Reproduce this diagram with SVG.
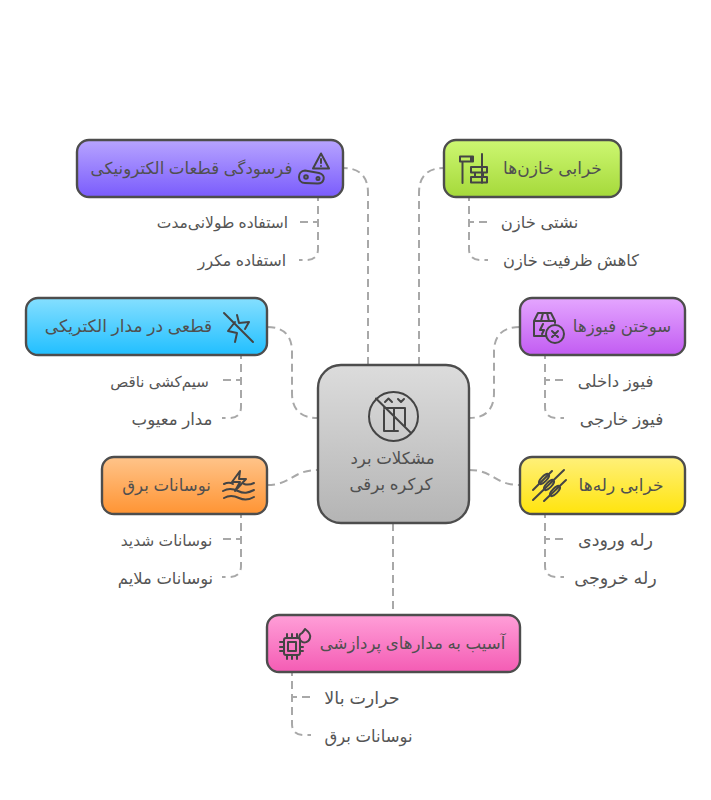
<svg xmlns="http://www.w3.org/2000/svg" width="711" height="800" viewBox="0 0 711 800">
<style>
.box{stroke:#4d4d4d;stroke-width:2.4}
.t{font-family:"Liberation Sans","DejaVu Sans",sans-serif;font-size:16.600px;fill:#505050;text-anchor:middle;direction:rtl}
.c{font-size:15.800px;fill:#555}
.ic{fill:none;stroke:#444;stroke-width:2;stroke-linecap:round;stroke-linejoin:round}
.ln{fill:none;stroke:#a8a8a8;stroke-width:2;stroke-dasharray:8 5}
.ch{stroke-dashoffset:4}
</style>
<defs>
<linearGradient id="gP" x1="0" y1="0" x2="0" y2="1"><stop offset="0" stop-color="#b7a4ff"/><stop offset="1" stop-color="#7a5cfc"/></linearGradient>
<linearGradient id="gG" x1="0" y1="0" x2="0" y2="1"><stop offset="0" stop-color="#cdf772"/><stop offset="1" stop-color="#a5d93a"/></linearGradient>
<linearGradient id="gB" x1="0" y1="0" x2="0" y2="1"><stop offset="0" stop-color="#85dfff"/><stop offset="1" stop-color="#21bfff"/></linearGradient>
<linearGradient id="gF" x1="0" y1="0" x2="0" y2="1"><stop offset="0" stop-color="#e4a6ff"/><stop offset="1" stop-color="#c25cf2"/></linearGradient>
<linearGradient id="gO" x1="0" y1="0" x2="0" y2="1"><stop offset="0" stop-color="#ffc48a"/><stop offset="1" stop-color="#ff9433"/></linearGradient>
<linearGradient id="gY" x1="0" y1="0" x2="0" y2="1"><stop offset="0" stop-color="#fff07a"/><stop offset="1" stop-color="#ffe40d"/></linearGradient>
<linearGradient id="gK" x1="0" y1="0" x2="0" y2="1"><stop offset="0" stop-color="#ff9fd8"/><stop offset="1" stop-color="#f45cb4"/></linearGradient>
<linearGradient id="gC" x1="0" y1="0" x2="0" y2="1"><stop offset="0" stop-color="#dcdcdc"/><stop offset="1" stop-color="#b4b4b4"/></linearGradient>
</defs>
<g id="connectors">
<path class="ln" d="M368 365V193Q368 168 343 168"/>
<path class="ln" d="M419 365V193Q419 168 444 168"/>
<path class="ln" d="M267 327Q292 327 292 352V393Q292 418 318 418"/>
<path class="ln" d="M520 327Q494 327 494 352V393Q494 418 469 418"/>
<path class="ln" d="M267 485C292 485 292 470 318 470"/>
<path class="ln" d="M469 470C494 470 494 485 520 485"/>
<path class="ln" d="M393 523V615"/>
<path class="ln ch" d="M318 197V222H299"/><path class="ln ch" d="M318 197V249Q318 260 306 260H299"/>
<path class="ln ch" d="M469 197V222H488"/><path class="ln ch" d="M469 197V249Q469 260 481 260H488"/>
<path class="ln ch" d="M241 355V380H222"/><path class="ln ch" d="M241 355V407Q241 418 229 418H222"/>
<path class="ln ch" d="M545 355V380H564"/><path class="ln ch" d="M545 355V407Q545 418 557 418H564"/>
<path class="ln ch" d="M241 514V539H222"/><path class="ln ch" d="M241 514V566Q241 577 229 577H222"/>
<path class="ln ch" d="M545 514V539H564"/><path class="ln ch" d="M545 514V566Q545 577 557 577H564"/>
<path class="ln ch" d="M292 672V697H311"/><path class="ln ch" d="M292 672V724Q292 735 304 735H311"/>
</g>
<g id="center">
<rect class="box" x="318" y="365" width="151" height="158" rx="23" fill="url(#gC)"/>
<circle class="ic" cx="393.500" cy="416.500" r="24.500" stroke-width="2.400"/>
<path class="ic" d="M376 398.500L411 433M384 410V431H398M384 408H405V426M394 408V431M385 402L388.500 398.500L392 402M398 399L401 402L404 399"/>
<text class="t" x="392.500" y="464">مشکلات برد</text>
<text class="t" x="391" y="490">کرکره برقی</text>
</g>
<g id="n-purple">
<rect class="box" x="77" y="140" width="266" height="57" rx="12" fill="url(#gP)"/>
<path class="ic" d="M321 153.500L329 168.500H313ZM321 159V163M321 166V166"/>
<path class="ic" d="M305 170.500L319 173C327 175 324 184 317 183.500L305 183C297 183 297 171 305 170.500Z"/>
<circle class="ic" cx="306" cy="177" r="1.800"/><circle class="ic" cx="318" cy="178.500" r="1.500"/>
<text class="t" x="191.500" y="174">فرسودگی قطعات الکترونیکی</text>
</g>
<g id="c-purple1"><text class="t c" style="font-size:15.500px" x="222.500" y="228">استفاده طولانی‌مدت</text></g>
<g id="c-purple2"><text class="t c" x="242" y="266">استفاده مکرر</text></g>
<g id="n-green">
<rect class="box" x="444" y="140" width="177" height="57" rx="12" fill="url(#gG)"/>
<path class="ic" d="M460 156.500H473V161.500H460ZM462.500 161.500V183M471 156.500V161.500M482 154V183M471 167H487V172.500H471ZM471 177H487V182.500H471ZM475 172.500V177M483 172.500V177"/>
<text class="t" style="font-size:17px" x="552.500" y="174">خرابی خازن‌ها</text>
</g>
<g id="c-green1"><text class="t c" style="font-size:16.400px" x="539.500" y="228">نشتی خازن</text></g>
<g id="c-green2"><text class="t c" style="font-size:16.200px" x="571" y="266">کاهش ظرفیت خازن</text></g>
<g id="n-blue">
<rect class="box" x="26" y="298" width="241" height="57" rx="12" fill="url(#gB)"/>
<path class="ic" d="M224 313L253 342M237 315L239 323L249 322L245 329M235 322L228 331L237 333L235 342"/>
<text class="t" style="font-size:17px" x="128.500" y="332">قطعی در مدار الکتریکی</text>
</g>
<g id="c-blue1"><text class="t c" style="font-size:15px" x="159.500" y="387">سیم‌کشی ناقص</text></g>
<g id="c-blue2"><text class="t c" style="font-size:16.600px" x="172" y="425">مدار معیوب</text></g>
<g id="n-fuchsia">
<rect class="box" x="520" y="298" width="165" height="57" rx="12" fill="url(#gF)"/>
<path class="ic" d="M546 336H534V321L538 313H551L555 321V323M534 321H555M543 313L541 321M547 313L549 321M543 324L540 330H544L542 334"/>
<circle class="ic" cx="555" cy="334" r="9"/>
<path class="ic" d="M552 331L558 337M558 331L552 337"/>
<text class="t" x="622" y="332">سوختن فیوزها</text>
</g>
<g id="c-fuchsia1"><text class="t c" style="font-size:16.600px" x="615.500" y="387">فیوز داخلی</text></g>
<g id="c-fuchsia2"><text class="t c" style="font-size:17px" x="621.500" y="425">فیوز خارجی</text></g>
<g id="n-orange">
<rect class="box" x="102" y="457" width="165" height="57" rx="12" fill="url(#gO)"/>
<path class="ic" d="M240 471L232 482H240L235 491L246 479H239ZM224 484C228 482 230 482 233 484M244 484C247 485 250 485 254 483M223 491C228 488 232 488 238 491S248 493 254 490M224 498C229 495 233 495 239 498S249 500 254 497"/>
<text class="t" x="166.500" y="491">نوسانات برق</text>
</g>
<g id="c-orange1"><text class="t c" style="font-size:15.500px" x="166.500" y="546">نوسانات شدید</text></g>
<g id="c-orange2"><text class="t c" style="font-size:16.400px" x="165.500" y="584">نوسانات ملایم</text></g>
<g id="n-yellow">
<rect class="box" x="520" y="457" width="165" height="57" rx="12" fill="url(#gY)"/>
<path class="ic" d="M533 490L552 471M533 500L564 470M544 501L566 480"/>
<ellipse class="ic" cx="544" cy="479" rx="6.500" ry="2.600" transform="rotate(-45 544 479)"/>
<ellipse class="ic" cx="549" cy="485" rx="6.500" ry="2.600" transform="rotate(-45 549 485)"/>
<ellipse class="ic" cx="555" cy="491" rx="6.500" ry="2.600" transform="rotate(-45 555 491)"/>
<text class="t" style="font-size:17px" x="621" y="491">خرابی رله‌ها</text>
</g>
<g id="c-yellow1"><text class="t c" style="font-size:17.500px" x="615.500" y="546">رله ورودی</text></g>
<g id="c-yellow2"><text class="t c" style="font-size:17.500px" x="615.500" y="584">رله خروجی</text></g>
<g id="n-pink">
<rect class="box" x="267" y="615" width="253" height="57" rx="12" fill="url(#gK)"/>
<rect class="ic" x="284" y="638" width="16" height="17" rx="2"/>
<rect class="ic" x="288" y="642" width="8" height="9"/>
<path class="ic" d="M287 634V638M292 634V638M297 634V638M287 655V659M292 655V659M297 655V659M280 642H284M280 647H284M280 651H284M300 647H303M300 651H303"/>
<path class="ic" d="M305 629C309 632 311 635 310 638C309 642 304 644 301 641C298 638 299 634 302 633C303 632 304 631 305 629Z"/>
<text class="t" x="412.500" y="649">آسیب به مدارهای پردازشی</text>
</g>
<g id="c-pink1"><text class="t c" style="font-size:17.500px" x="362" y="704">حرارت بالا</text></g>
<g id="c-pink2"><text class="t c" style="font-size:16.500px" x="368.500" y="742">نوسانات برق</text></g>
</svg>
